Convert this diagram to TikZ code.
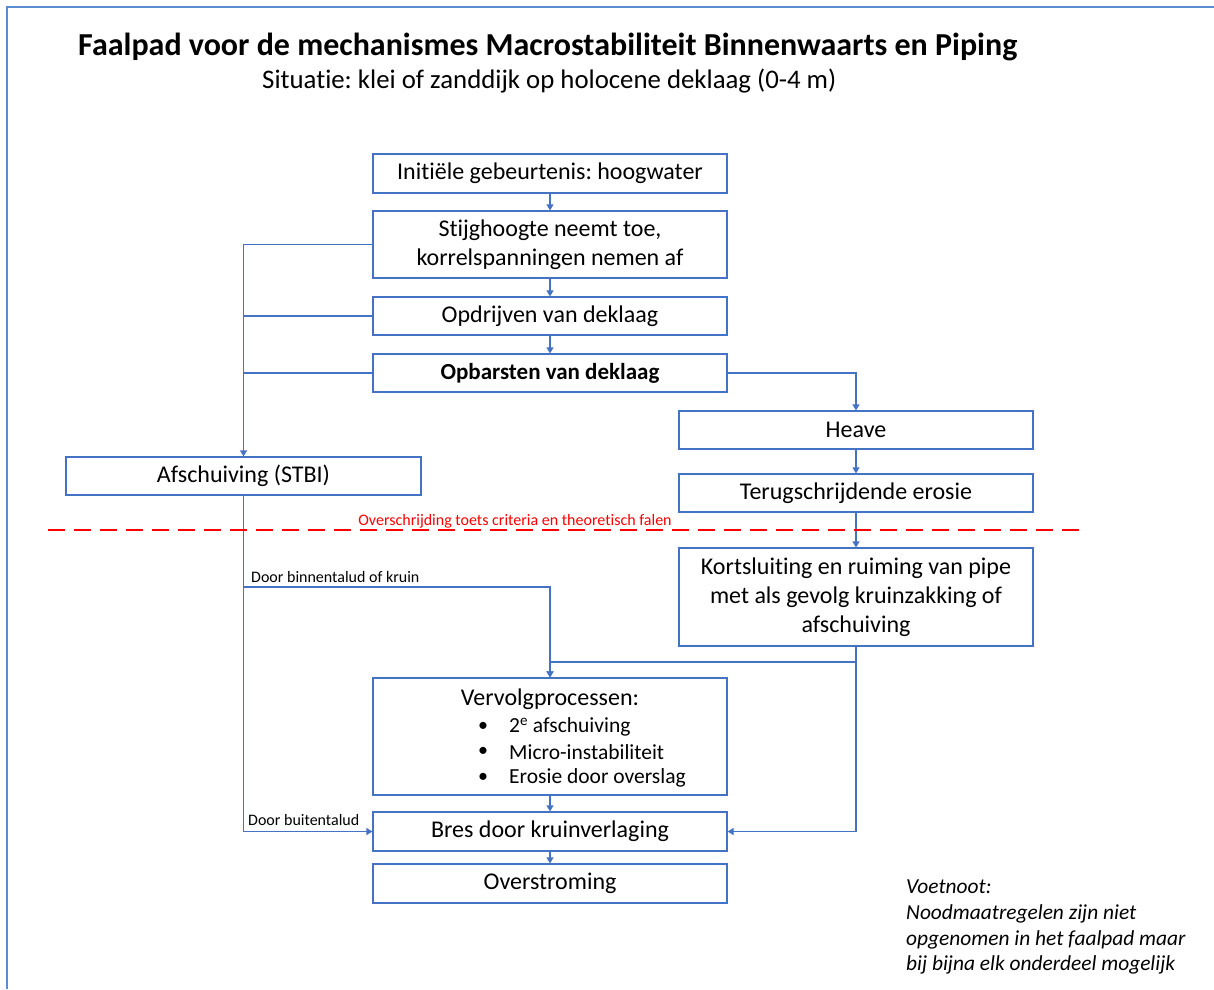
\documentclass[tikz,border=0pt]{standalone}
\usepackage{fontspec}
\setmainfont{Carlito}[Ligatures=NoCommon]
\usetikzlibrary{arrows.meta}
\definecolor{boxblue}{HTML}{4472C4}
\definecolor{frameblue}{HTML}{5B8BD0}
\definecolor{alarmred}{HTML}{FF0000}
\frenchspacing
\tikzset{
  stepbox/.style={draw=boxblue, line width=1.2pt, fill=white, align=center, inner sep=0pt,
    minimum width=354pt, font=\fontsize{24}{29}\selectfont},
  conn/.style={draw=boxblue, line width=1.2pt, -{Triangle[length=6pt,width=7pt]}},
  plain/.style={draw=boxblue, line width=1.2pt},
  smalllabel/.style={font=\fontsize{16}{18}\selectfont, inner sep=0pt, anchor=west},
}
\begin{document}
\begin{tikzpicture}[x=1pt,y=-1pt]
\useasboundingbox (0,0) rectangle (1214,989);
% frame
\draw[frameblue, line width=2pt] (7,989) -- (7,7) -- (1214,7);
% title
\node[anchor=west, inner sep=0pt, font=\bfseries\fontsize{32}{36}\selectfont] (title) at (78,46.5) {Faalpad voor de mechanismes Macrostabiliteit Binnenwaarts en Piping};
\node[anchor=west, inner sep=0pt, font=\fontsize{26.8}{30}\selectfont] (subtitle) at (262,81) {Situatie: klei of zanddijk op holocene deklaag (0-4 m)};
% boxes
\node[stepbox, minimum height=39pt] (init) at (550,173.5) {Initiële gebeurtenis: hoogwater};
\node[stepbox, minimum height=67pt] (stijg) at (550,244.5) {Stijghoogte neemt toe,\\korrelspanningen nemen af};
\node[stepbox, minimum height=38pt] (opdr) at (550,316) {Opdrijven van deklaag};
\node[stepbox, minimum height=38pt, font=\bfseries\fontsize{23}{29}\selectfont] (opbar) at (550,373) {Opbarsten van deklaag};
\node[stepbox, minimum height=38pt] (heave) at (856,430) {Heave};
\node[stepbox, minimum height=38pt] (terug) at (856,493) {Terugschrijdende erosie};
\node[stepbox, minimum height=98pt] (kort) at (856,597) {Kortsluiting en ruiming van pipe\\met als gevolg kruinzakking of\\afschuiving};
\node[stepbox, minimum width=355pt, minimum height=38pt] (afsch) at (243.5,476) {Afschuiving (STBI)};
\node[stepbox, minimum height=117pt] (verv) at (550,736.5) {};
\node[stepbox, minimum height=39pt] (bres) at (550,831.5) {Bres door kruinverlaging};
\node[stepbox, minimum height=39pt] (over) at (550,883.5) {Overstroming};
% contents of Vervolgprocessen
\node[inner sep=0pt, font=\fontsize{24}{28}\selectfont] (vhead) at (550,699) {Vervolgprocessen:};
\foreach \yy/\txt/\nm in {727/2\textsuperscript{e} afschuiving/a, 752/Micro-instabiliteit/b, 778/Erosie door overslag/c}{
  \node[inner sep=0pt, font=\fontsize{20}{22}\selectfont] (bul\nm) at (483,\yy) {•};
  \node[inner sep=0pt, anchor=west, font=\fontsize{21.5}{24}\selectfont] (item\nm) at (509,\yy) {\txt};
}
% connectors main column
\draw[conn] (init) -- (stijg);
\draw[conn] (stijg) -- (opdr);
\draw[conn] (opdr) -- (opbar);
\draw[conn] (stijg.west) -| (afsch.north);
\draw[plain] (opdr.west) -- (opdr.west -| afsch.north);
\draw[plain] (opbar.west) -- (opbar.west -| afsch.north);
\draw[conn] (opbar.east) -| (heave.north);
\draw[conn] (heave) -- (terug);
\draw[conn] (terug) -- (kort);
% left branch
\draw[conn] (afsch.south) |- (bres.west);
\coordinate (bin) at (243.5,587);
\draw[conn] (bin) -| (verv.north);
\node[smalllabel] (lblbin) at (251,577) {Door binnentalud of kruin};
\node[smalllabel] (lblbuit) at (248,820) {Door buitentalud};
% right branch
\draw[conn] (kort.south) |- (bres.east);
\coordinate (kj) at (856,662);
\draw[conn] (kj) -| (verv.north);
\draw[conn] (verv) -- (bres);
\draw[conn] (bres) -- (over);
% red dashed line
\coordinate (dl) at (48,530);
\coordinate (dr) at (1085,530);
\draw[alarmred, line width=1.3pt, dash pattern=on 17pt off 9pt] (dl) -- (dr);
\node[inner sep=0pt, text=alarmred, font=\fontsize{16}{18}\selectfont] (redlbl) at (515,521) {Overschrijding toets criteria en theoretisch falen};
% footnote
\node[anchor=north west, inner sep=0pt, align=left, font=\itshape\fontsize{21.4}{25.6}\selectfont] (foot) at (906,880) {Voetnoot:\\Noodmaatregelen zijn niet\\opgenomen in het faalpad maar\\bij bijna elk onderdeel mogelijk};
\end{tikzpicture}
\end{document}
